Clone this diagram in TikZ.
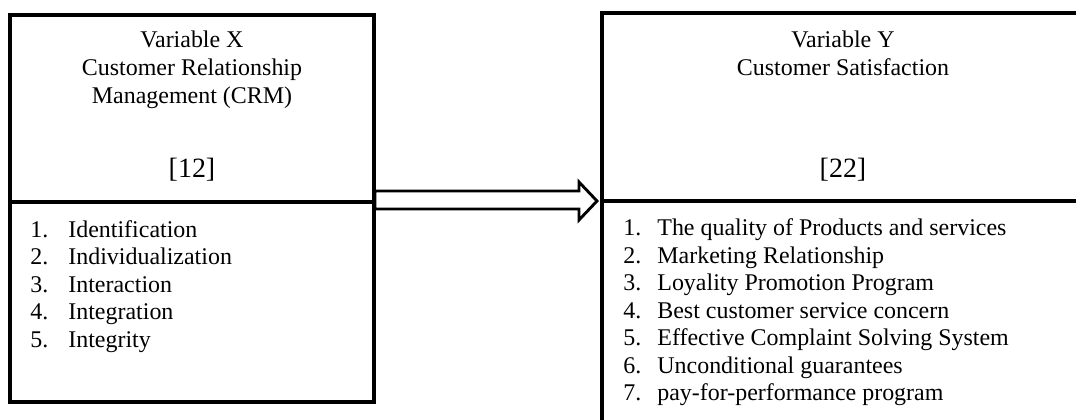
\documentclass[tikz,border=0pt]{standalone}
\usepackage{fontspec}
\setmainfont{Liberation Serif}
\usetikzlibrary{calc}
\newcommand\px{0.0185cm}
\begin{document}
\begin{tikzpicture}[x=\px, y=-\px,
    box/.style={draw, line width=1.6pt, rectangle, anchor=north west, inner sep=0pt, outer sep=0pt},
    title/.style={anchor=base, align=center, inner sep=0pt, font=\fontsize{12.6}{14.5}\selectfont},
    score/.style={anchor=base, inner sep=0pt, font=\fontsize{14.7}{16}\selectfont},
    item/.style={anchor=base west, inner sep=0pt, font=\fontsize{12.6}{14.5}\selectfont}]

    \useasboundingbox (0,0) rectangle (1076,419);

    % variable X
    \node[box, minimum width=364*\px, minimum height=187*\px] (xhead) at (10,15) {};
    \node[box, minimum width=364*\px, minimum height=200*\px] (xlist) at (xhead.south west) {};
    \node[title] (xtitle) at (192,103) {Variable X\\Customer Relationship\\Management (CRM)};
    \node[score] (xscore) at (192,177) {[12]};
    \foreach \txt [count=\i] in {Identification, Individualization, Interaction, Integration, Integrity} {
        \node[item] (xnum\i) at ({30},{209.5+27.5*\i}) {\i.};
        \node[item] (xitem\i) at ({68},{209.5+27.5*\i}) {\txt};
    }

    % variable Y
    \node[box, minimum width=482*\px, minimum height=188*\px] (yhead) at (602,13) {};
    \node[box, minimum width=482*\px, minimum height=240*\px] (ylist) at (yhead.south west) {};
    \node[title] (ytitle) at (843,75) {Variable Y\\Customer Satisfaction};
    \node[score] (yscore) at (843,177) {[22]};
    \foreach \txt [count=\i] in {The quality of Products and services, Marketing Relationship,
        Loyality Promotion Program, Best customer service concern,
        Effective Complaint Solving System, Unconditional guarantees, pay-for-performance program} {
        \node[item] (ynum\i) at ({623},{208+27.5*\i}) {\i.};
        \node[item] (yitem\i) at ({657},{208+27.5*\i}) {\txt};
    }

    % X -> Y
    \coordinate (tip) at ($(yhead.south west)+(-5,0)$);
    \draw[line width=1.5pt] ($(xhead.south east)+(1,-11)$) -- ($(tip)+(-18,-10)$) -- ($(tip)+(-18,-19)$)
        -- (tip) -- ($(tip)+(-18,19)$) -- ($(tip)+(-18,8)$) -- ($(xhead.south east)+(1,7)$) -- cycle;

\end{tikzpicture}
\end{document}
